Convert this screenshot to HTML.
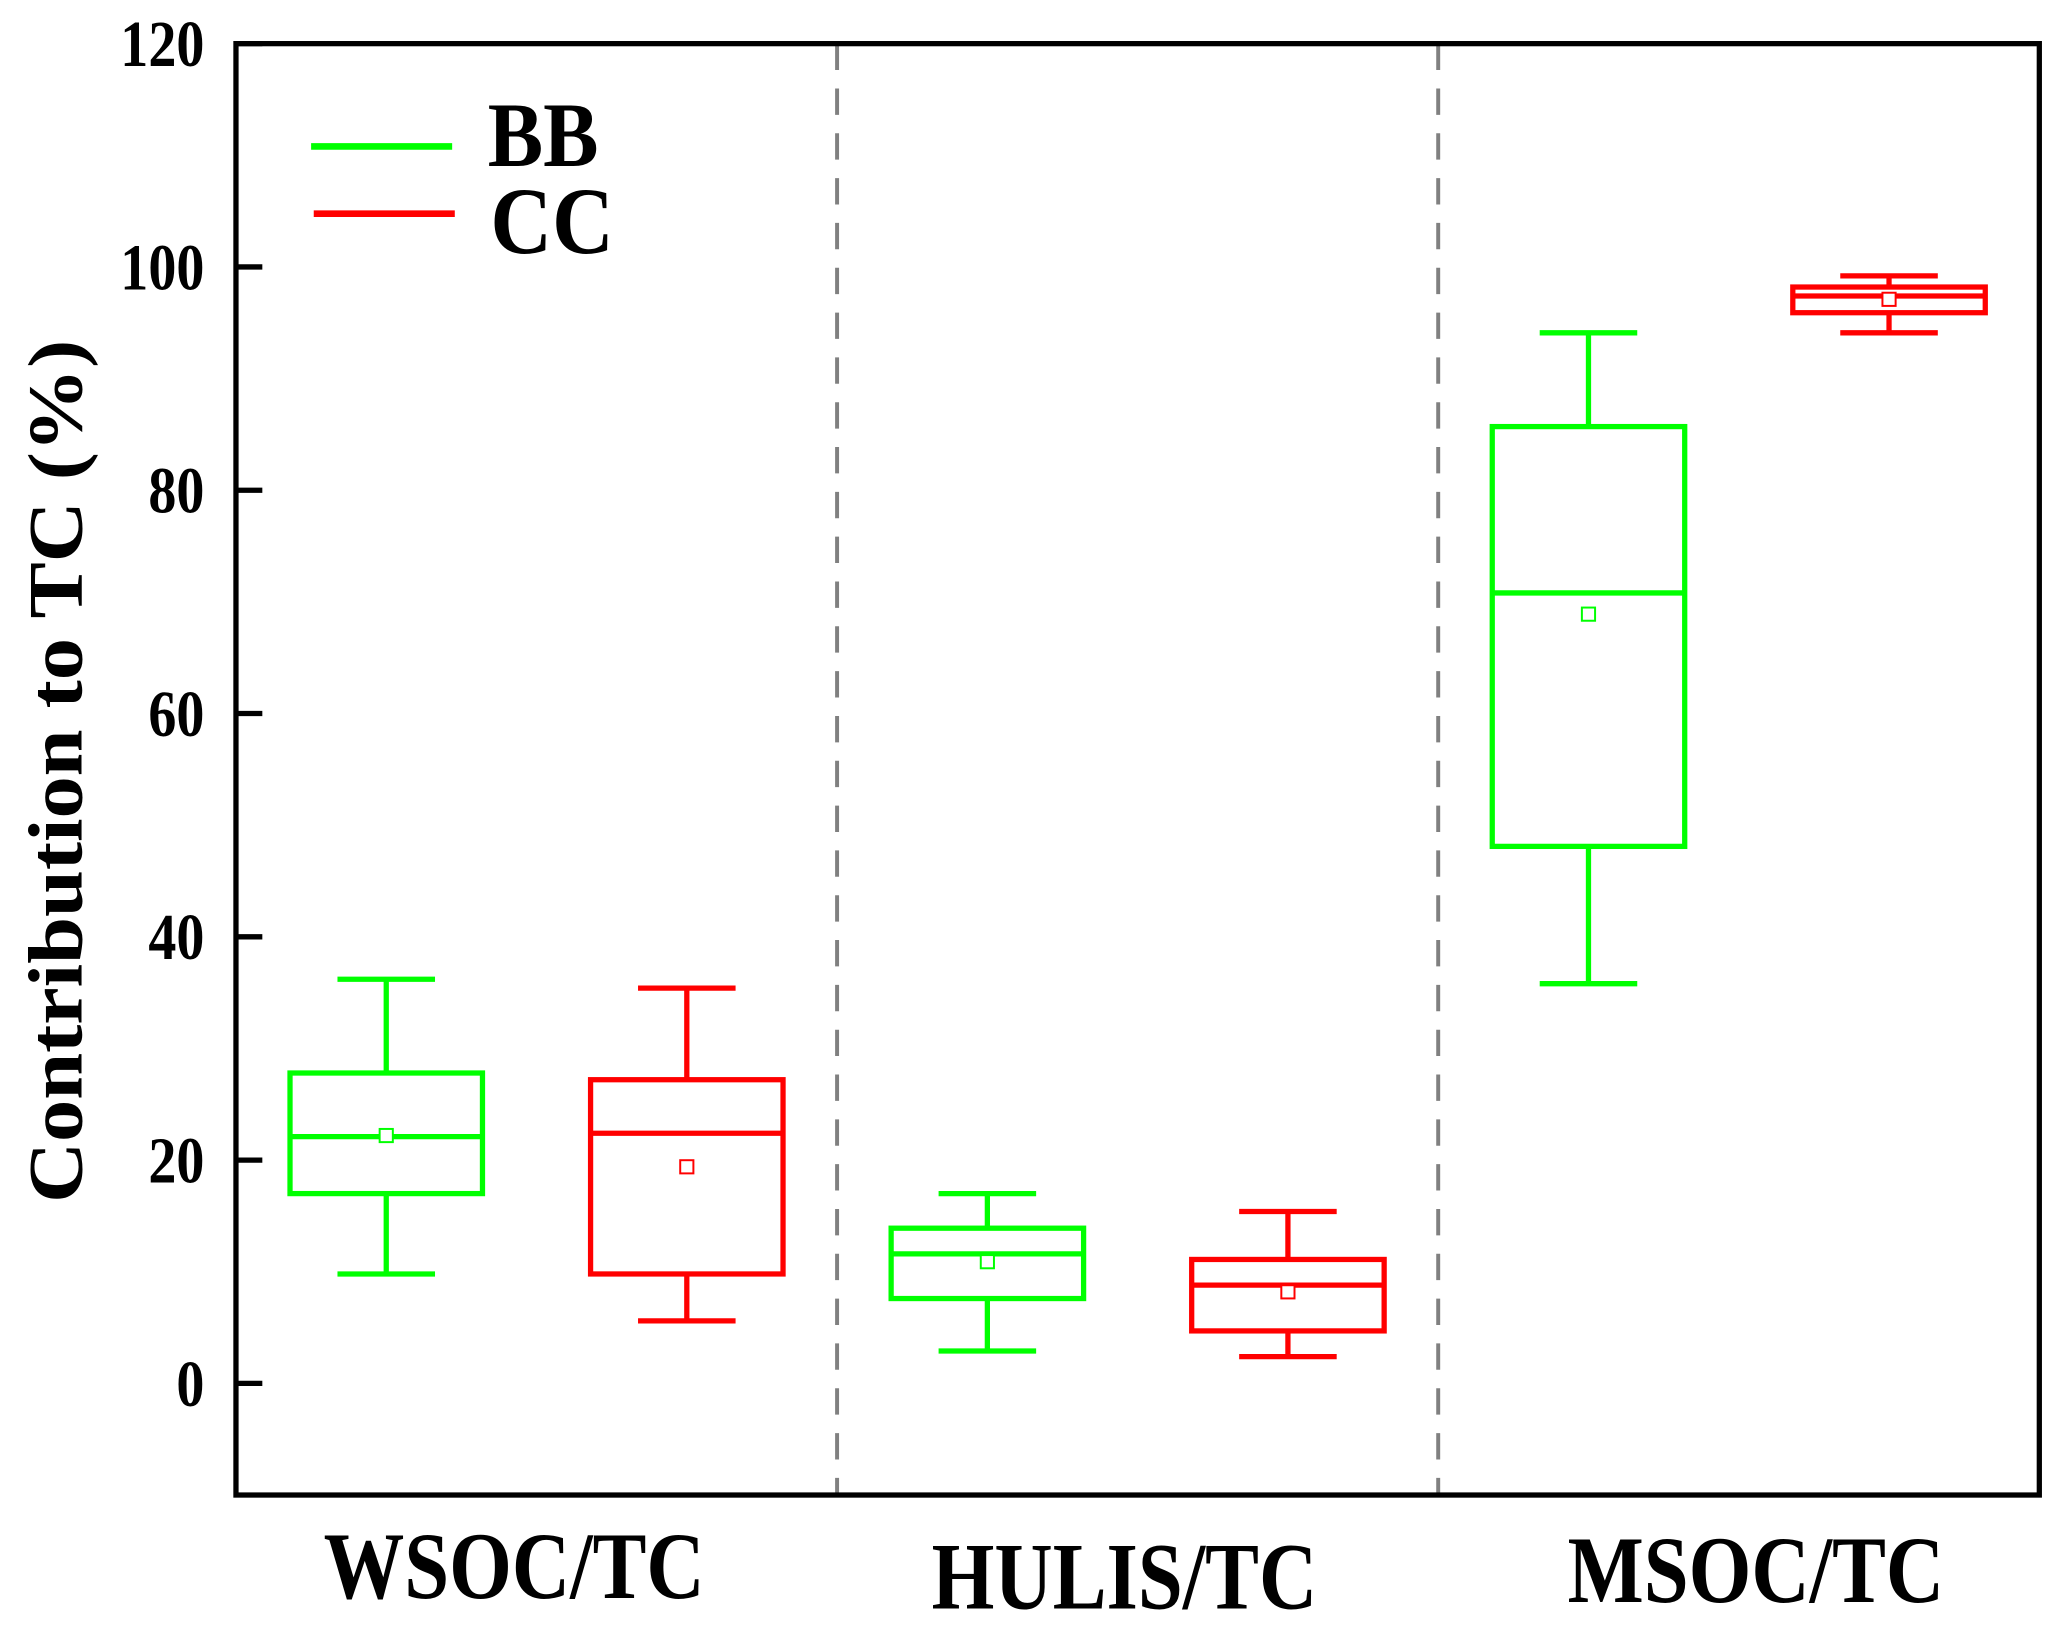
<!DOCTYPE html>
<html><head><meta charset="utf-8"><style>
html,body{margin:0;padding:0;background:#fff;}
svg{display:block;font-family:"Liberation Serif",serif;font-weight:bold;}
</style></head><body>
<svg id="chart" width="2067" height="1627" viewBox="0 0 1568 1234" xmlns="http://www.w3.org/2000/svg">
<g id="grid"></g>
<g id="boxes"></g>
<rect x="179" y="33" width="1368" height="1101" fill="none" stroke="#000" stroke-width="4"/>
<g id="axes"></g>
<text transform="translate(62,585) rotate(-90) scale(1,0.92)" text-anchor="middle" font-size="64">Contribution to TC (%)</text>
<g>
<line x1="236" y1="111" x2="343" y2="111" stroke="#00ff00" stroke-width="5"/>
<text transform="translate(370,126) scale(0.9,1)" font-size="70">BB</text>
<line x1="238" y1="162" x2="345" y2="162" stroke="#ff0000" stroke-width="5"/>
<text transform="translate(372,192) scale(0.9,1)" font-size="72">CC</text>
</g>
</svg>
<script>
const categories = ["WSOC/TC","HULIS/TC","MSOC/TC"];
const seriesNames = ["BB","CC"];
const seriesColors = ["#00ff00","#ff0000"];
const bbMin = [9.8, 2.9, 35.8];
const bbQ1 = [17.0, 7.6, 48.1];
const bbMed = [22.1, 11.6, 70.8];
const bbQ3 = [27.8, 13.9, 85.7];
const bbMax = [36.2, 17.0, 94.1];
const bbMean = [22.2, 10.9, 68.9];
const ccMin = [5.6, 2.4, 94.1];
const ccQ1 = [9.8, 4.7, 95.9];
const ccMed = [22.4, 8.8, 97.4];
const ccQ3 = [27.2, 11.1, 98.2];
const ccMax = [35.4, 15.4, 99.2];
const ccMean = [19.4, 8.2, 97.1];
const yTicks = [0,20,40,60,80,100,120];

const NS="http://www.w3.org/2000/svg";
const X0=179,X1=1547,Y0=1134,Y1=33,YMIN=-10,YMAX=120;
const y=v=>Y0-(v-YMIN)/(YMAX-YMIN)*(Y0-Y1);
const catW=(X1-X0)/categories.length;
const x=(ci,si)=>X0+catW*ci+catW*(si===0?0.25:0.75);
function mk(tag,attrs,parent){const e=document.createElementNS(NS,tag);for(const k in attrs)e.setAttribute(k,attrs[k]);parent.appendChild(e);return e;}
const grid=document.getElementById('grid'),boxes=document.getElementById('boxes'),axes=document.getElementById('axes');
for(let i=1;i<categories.length;i++){
  const l=mk('line',{x1:X0+catW*i,x2:X0+catW*i,y1:Y1,y2:Y0,stroke:'#808080','stroke-width':3,'stroke-dasharray':'20,14'},grid);
  
  
}
const data=[[bbMin,bbQ1,bbMed,bbQ3,bbMax,bbMean],[ccMin,ccQ1,ccMed,ccQ3,ccMax,ccMean]];
const labelY=[1212,1220,1215];
categories.forEach((c,ci)=>{
  [0,1].forEach(si=>{
    const d=data[si],cx=x(ci,si),col=seriesColors[si],bw=146,cw=74;
    const g=mk('g',{stroke:col,'stroke-width':4,fill:'none'},boxes);
    
    
    mk('line',{x1:cx,x2:cx,y1:y(d[4][ci]),y2:y(d[3][ci])},g);
    mk('line',{x1:cx,x2:cx,y1:y(d[1][ci]),y2:y(d[0][ci])},g);
    mk('line',{x1:cx-cw/2,x2:cx+cw/2,y1:y(d[4][ci]),y2:y(d[4][ci])},g);
    mk('line',{x1:cx-cw/2,x2:cx+cw/2,y1:y(d[0][ci]),y2:y(d[0][ci])},g);
    mk('rect',{x:cx-bw/2,y:y(d[3][ci]),width:bw,height:y(d[1][ci])-y(d[3][ci])},g);
    mk('line',{x1:cx-bw/2,x2:cx+bw/2,y1:y(d[2][ci]),y2:y(d[2][ci])},g);
    mk('rect',{x:cx-5,y:y(d[5][ci])-5,width:10,height:10,'stroke-width':1.5,fill:'#fff'},g);
  });
  const cxl=[390,853,1332][ci];
  const t=mk('text',{transform:'translate('+cxl+','+labelY[ci]+') scale(0.85,1)','text-anchor':'middle','font-size':72},axes);
  t.textContent=c;
  
  
});
yTicks.forEach(v=>{
  const l=mk('line',{x1:X0,x2:X0+20,y1:y(v),y2:y(v),stroke:'#000','stroke-width':4},axes);
  
  
  const t=mk('text',{transform:'translate(155,'+(y(v)+17)+') scale(0.85,1)','text-anchor':'end','font-size':50},axes);
  t.textContent=v;
  
  
});
</script>
</body></html>
